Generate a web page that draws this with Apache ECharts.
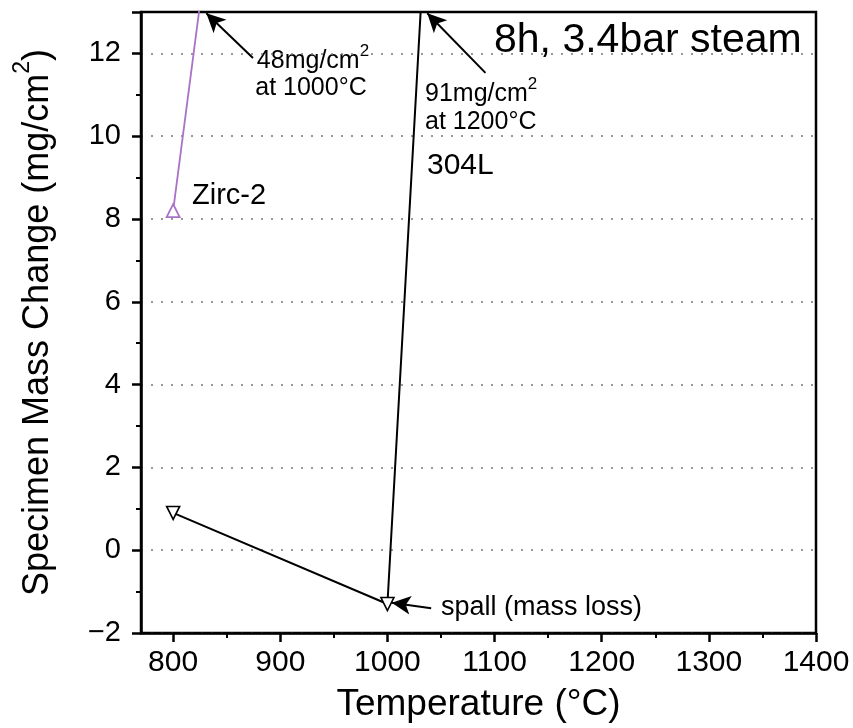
<!DOCTYPE html>
<html>
<head>
<meta charset="utf-8">
<script src="https://cdn.jsdelivr.net/npm/echarts@6/dist/echarts.min.js"></script>
<style>html,body{margin:0;padding:0;background:#fff;}#c{width:853px;height:728px;}</style>
</head>
<body>
<div id="c"></div>
<script>
// ---- data ----
const zirc2Temps = [800, 1000];
const zirc2Values = [8.2, 48];
const ss304Temps = [800, 1000, 1200];
const ss304Values = [0.9, -1.3, 91];
const xTickValues = [800, 900, 1000, 1100, 1200, 1300, 1400];
const xMinorTickValues = [850, 950, 1050, 1150, 1250, 1350];

const FONT = '"Liberation Sans", Arial, Helvetica, sans-serif';
const chart = echarts.init(document.getElementById('c'), null, {renderer: 'canvas'});

const zircData = zirc2Temps.map((t, i) => [t, zirc2Values[i]]);
const ssData = ss304Temps.map((t, i) => [t, ss304Values[i]]);

const arrowStyle = {color: '#000', width: 2, type: 'solid'};

function supRich(size, supSize) {
  return {
    a: {fontFamily: FONT, fontSize: size, color: '#000', verticalAlign: 'bottom', lineHeight: size * 1.25},
    s: {fontFamily: FONT, fontSize: supSize, color: '#000', verticalAlign: 'top', lineHeight: size * 1.25}
  };
}

const option = {
  animation: false,
  backgroundColor: '#fff',
  grid: {left: 141, right: 37, top: 12, bottom: 94, show: true, borderColor: '#000', borderWidth: 2.5, containLabel: false},
  xAxis: [{
    type: 'value', min: 770, max: 1400,
    name: 'Temperature (°C)', nameLocation: 'middle', nameGap: 53,
    nameTextStyle: {fontFamily: FONT, fontSize: 37, color: '#000'},
    axisLine: {show: true, onZero: false, lineStyle: {color: '#000', width: 2.5}},
    axisTick: {show: true, customValues: xTickValues, length: 9, inside: false, lineStyle: {color: '#000', width: 2.5}},
    axisLabel: {customValues: xTickValues, fontFamily: FONT, fontSize: 30, color: '#000', margin: 15, formatter: v => String(v)},
    splitLine: {show: false}
  }, {
    type: 'value', min: 770, max: 1400, position: 'bottom',
    axisLine: {show: false, onZero: false},
    axisTick: {show: true, customValues: xMinorTickValues, length: 5, inside: false, lineStyle: {color: '#000', width: 2}},
    axisLabel: {show: false},
    splitLine: {show: false}
  }],
  yAxis: {
    type: 'value', min: -2, max: 13, interval: 2,
    name: '{a|Specimen Mass Change (mg/cm}{s|2}{a|)}', nameLocation: 'middle', nameGap: 85,
    nameTextStyle: {fontFamily: FONT, fontSize: 36, color: '#000', rich: supRich(36, 23)},
    axisLine: {show: true, onZero: false, lineStyle: {color: '#000', width: 2.5}},
    axisTick: {show: true, length: 9, inside: false, lineStyle: {color: '#000', width: 2.5}},
    minorTick: {show: true, splitNumber: 2, length: 5, lineStyle: {color: '#000', width: 2}},
    axisLabel: {fontFamily: FONT, fontSize: 29, color: '#000', margin: 20, showMaxLabel: false,
      formatter: v => (v > 12 ? '' : v < 0 ? '\u2212' + Math.abs(v) : String(v))},
    splitLine: {show: true, showMaxLine: false, lineStyle: {color: '#777', width: 1.5, type: [2, 8]}}
  },
  series: [{
    name: 'Zirc-2', type: 'line', data: zircData, clip: true,
    symbol: 'triangle', symbolSize: 13,
    lineStyle: {color: '#aa72c6', width: 1.8},
    itemStyle: {color: '#fff', borderColor: '#aa72c6', borderWidth: 1.8},
    markLine: {
      silent: true, symbol: ['none', 'arrow'], symbolSize: [14, 19], label: {show: false},
      lineStyle: arrowStyle,
      data: [[{coord: [874.5, 11.89]}, {coord: [831, 12.97]}]]
    }
  }, {
    name: '304L', type: 'line', data: ssData, clip: true,
    symbol: 'triangle', symbolRotate: 180, symbolSize: 13,
    lineStyle: {color: '#000', width: 2},
    itemStyle: {color: '#fff', borderColor: '#000', borderWidth: 1.6},
    markLine: {
      silent: true, symbol: ['none', 'arrow'], symbolSize: [14, 19], label: {show: false},
      lineStyle: arrowStyle,
      data: [
        [{coord: [1091.5, 11.53]}, {coord: [1037.2, 12.97]}],
        [{coord: [1040.8, -1.40]}, {coord: [1004, -1.27]}]
      ]
    }
  }],
  graphic: [
    {type: 'text', x: 313, y: 58, style: {text: '{a|48mg/cm}{s|2}', rich: supRich(25, 17), align: 'center', verticalAlign: 'middle'}},
    {type: 'text', x: 311, y: 88, style: {text: 'at 1000°C', font: '25px ' + FONT, fill: '#000', align: 'center', verticalAlign: 'middle'}},
    {type: 'text', x: 425, y: 91, style: {text: '{a|91mg/cm}{s|2}', rich: supRich(25, 17), align: 'left', verticalAlign: 'middle'}},
    {type: 'text', x: 425, y: 122, style: {text: 'at 1200°C', font: '25px ' + FONT, fill: '#000', align: 'left', verticalAlign: 'middle'}},
    {type: 'text', x: 427, y: 166, style: {text: '304L', font: '30px ' + FONT, fill: '#000', align: 'left', verticalAlign: 'middle'}},
    {type: 'text', x: 494, y: 41, style: {text: '8h, 3.4bar steam', font: '41px ' + FONT, fill: '#000', align: 'left', verticalAlign: 'middle'}},
    {type: 'text', x: 192, y: 196, style: {text: 'Zirc-2', font: '29px ' + FONT, fill: '#000', align: 'left', verticalAlign: 'middle'}},
    {type: 'text', x: 441, y: 608, style: {text: 'spall (mass loss)', font: '27px ' + FONT, fill: '#000', align: 'left', verticalAlign: 'middle'}}
  ]
};
chart.setOption(option);
</script>
</body>
</html>
